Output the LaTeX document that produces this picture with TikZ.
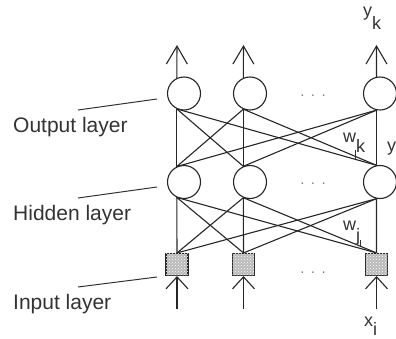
\documentclass[tikz,border=0pt]{standalone}
\usepackage{fontspec}
\setmainfont{Liberation Sans}
\usetikzlibrary{arrows.meta,patterns}
\begin{document}
\begin{tikzpicture}[x=1pt,y=-1pt,
  ln/.style={line width=1.1pt,black!85},
  neuron/.style={circle,draw,ln,fill=white,minimum size=33pt,inner sep=0pt},
  inbox/.style={rectangle,draw,ln,minimum size=22pt,inner sep=0pt,fill=gray!55,postaction={pattern=crosshatch dots,pattern color=white}},
  uparrow/.style={ln,-{Straight Barb[length=18pt,width=21pt,line width=1.1pt]}},
  inarrow/.style={ln,-{Straight Barb[length=12pt,width=22pt,line width=1.1pt]}},
  layerlab/.style={anchor=base west,inner sep=0pt,font=\fontsize{21}{25}\selectfont,text=black!80},
  sym/.style={anchor=base west,inner sep=0pt,font=\fontsize{18}{22}\selectfont,text=black!80},
  dots/.style={inner sep=0pt,font=\fontsize{14}{16}\selectfont,text=black!55},
  pointer/.style={line width=1pt,black!80}]
\useasboundingbox (0,0) rectangle (396,339);
\clip (0,0) rectangle (396,339);
% nodes
\node[neuron] (o1) at (184,93.5) {};
\node[neuron] (o2) at (250,93.5) {};
\node[neuron] (o3) at (380,93.5) {};
\node[neuron] (h1) at (184,182) {};
\node[neuron] (h2) at (250,182) {};
\node[neuron] (h3) at (380,182) {};
\node[inbox] (i1) at (177,264.5) {};
\node[inbox] (i2) at (243.5,264.5) {};
\node[inbox] (i3) at (376.5,264.5) {};
% port coordinates
\coordinate (ot1) at (o1.115); \coordinate (ob1) at (o1.-115);
\coordinate (ot2) at (o2.113); \coordinate (ob2) at (o2.-113);
\coordinate (ot3) at (o3.102); \coordinate (ob3) at (o3.-102);
\coordinate (ht1) at (h1.115); \coordinate (hb1) at (h1.-115);
\coordinate (ht2) at (h2.113); \coordinate (hb2) at (h2.-113);
\coordinate (ht3) at (h3.102); \coordinate (hb3) at (h3.-102);
\coordinate (a1) at (177,45); \coordinate (a2) at (243.5,45); \coordinate (a3) at (376.5,45);
\coordinate (b1) at (177,309); \coordinate (b2) at (243.5,309); \coordinate (b3) at (376.5,309);
% connections hidden -> output
\foreach \a in {1,2,3}{\foreach \b in {1,2,3}{\draw[ln] (ht\a) -- (ob\b);}}
% connections input -> hidden
\foreach \a in {1,2,3}{\foreach \b in {1,2,3}{\draw[ln] (i\a.north) -- (hb\b);}}
% arrows
\foreach \k in {1,2,3}{\draw[uparrow] (ot\k) -- (a\k);}
\foreach \k in {1,2,3}{\draw[inarrow] (b\k) -- (i\k.south);}
% dots
\node[dots] (d1) at (313,97) {·\hspace{6pt}·\hspace{6pt}·};
\node[dots] (d2) at (313,185) {·\hspace{6pt}·\hspace{6pt}·};
\node[dots] (d3) at (313,274) {·\hspace{6pt}·\hspace{6pt}·};
% labels
\node[layerlab] (lo) at (13,133) {Output layer};
\node[layerlab] (lh) at (13,220) {Hidden layer};
\node[layerlab] (li) at (13,309) {Input layer};
\coordinate (po1) at (78,110); \coordinate (po2) at (157,99);
\coordinate (ph1) at (78,198); \coordinate (ph2) at (157,187);
\coordinate (pi1) at (78,287); \coordinate (pi2) at (157,277);
\draw[pointer] (po1) -- (po2);
\draw[pointer] (ph1) -- (ph2);
\draw[pointer] (pi1) -- (pi2);
\node[sym] (yk) at (363,17) {y\raisebox{-13pt}{k}};
\node[sym] (xi) at (364,326) {x\raisebox{-9pt}{i}};
\node[sym] (wk) at (343,143) {w\raisebox{-10pt}{k}};
\node[sym] (wj) at (343,230) {w\raisebox{-11pt}{j}};
\node[sym] (yj) at (387,152) {y};
\coordinate (tk1) at (355.5,150); \coordinate (tk2) at (355.5,159);
\coordinate (tj1) at (360,240); \coordinate (tj2) at (360,246);
\draw[line width=0.9pt,black!80] (tk1) -- (tk2);
\draw[line width=0.9pt,black!80] (tj1) -- (tj2);
\end{tikzpicture}
\end{document}
